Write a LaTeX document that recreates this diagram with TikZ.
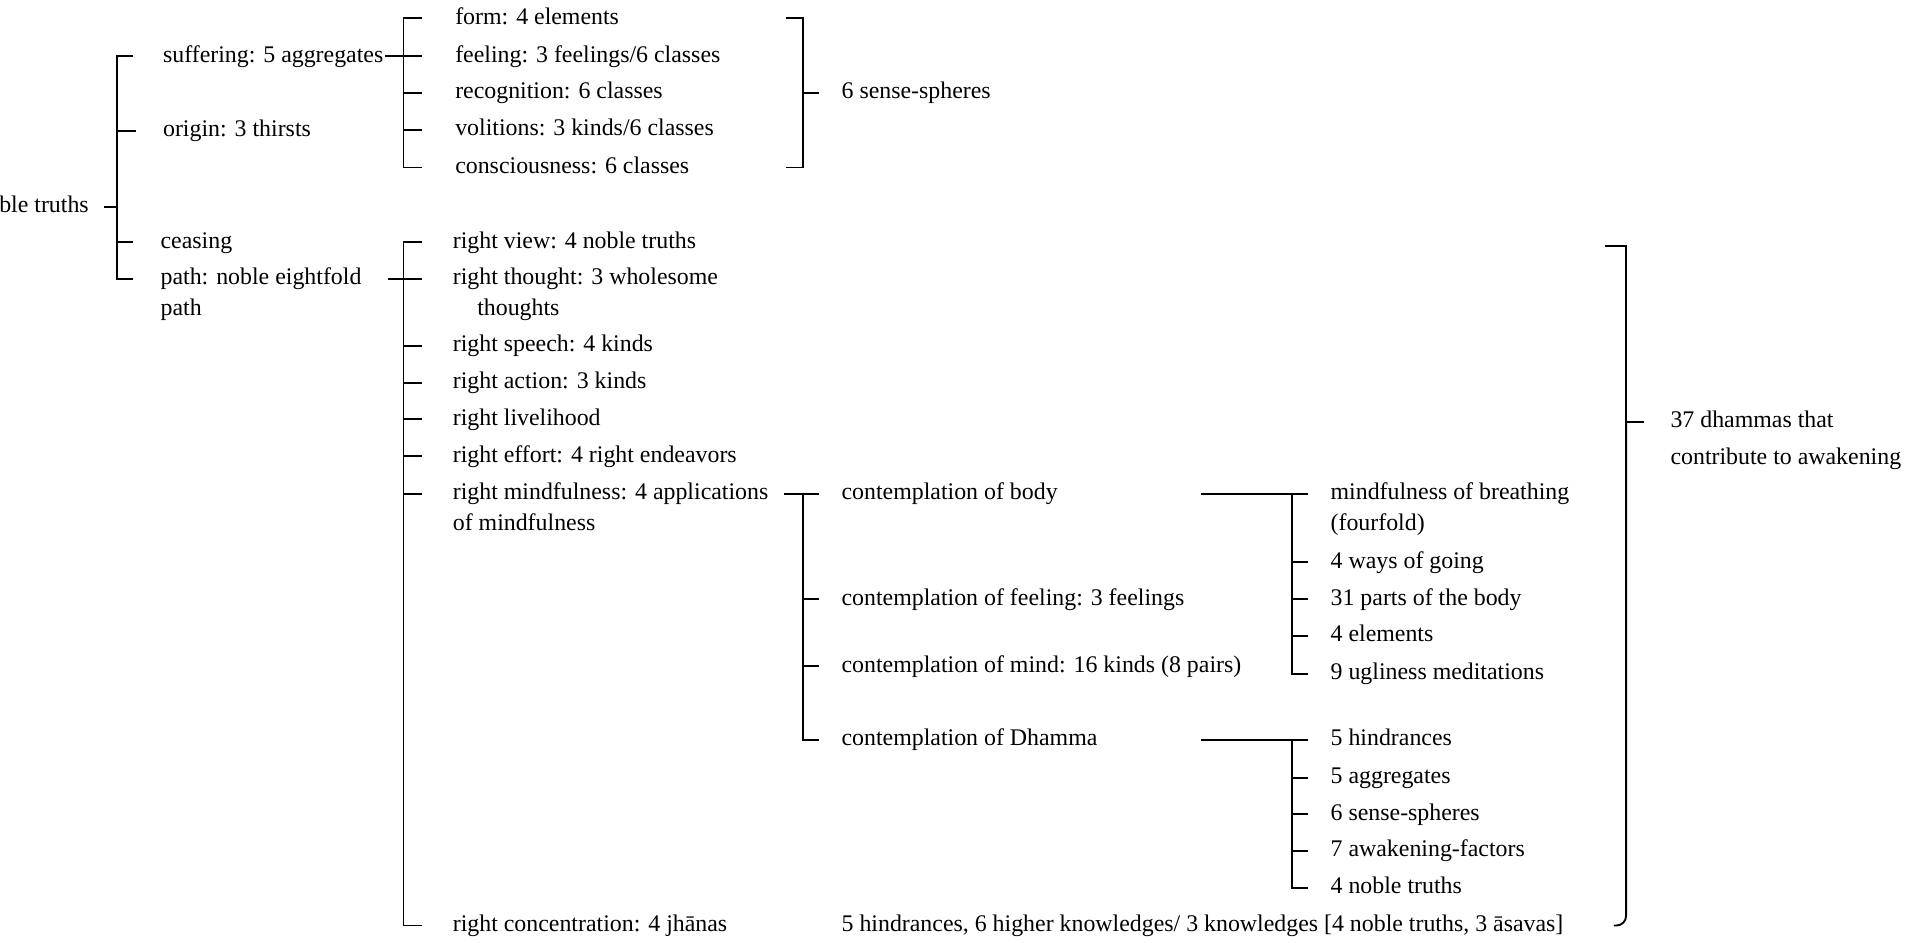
\documentclass[tikz,border=0pt]{standalone}
\usepackage{fontspec}
\setmainfont{Liberation Serif}
\usepackage{tikz}
\usetikzlibrary{calc}
\tikzset{t/.style={anchor=west,inner sep=0pt,text height=7pt,text depth=2pt,font=\fontsize{10}{12}\selectfont}}
\tikzset{b/.style={line width=0.8pt}}

\begin{document}
\begin{tikzpicture}[x=0.018cm,y=-0.018cm]
      \useasboundingbox (0,0) rectangle (1568,771);
      \node[t,anchor=east] (nt) at (73,169) {noble truths};
      \node[t] (suf) at (133,46) {suffering: 5 aggregates};
      \node[t] (orig) at (133,107) {origin: 3 thirsts};
      \node[t] (ceas) at (131,198) {ceasing};
      \node[t] (path) at (131,228) {path: noble eightfold};
      \node[t] (path2) at (131,253) {path};
      \node[t] (form) at (372,15) {form: 4 elements};
      \node[t] (feel) at (372,46) {feeling: 3 feelings/6 classes};
      \node[t] (recog) at (372,76) {recognition: 6 classes};
      \node[t] (volit) at (372,106) {volitions: 3 kinds/6 classes};
      \node[t] (cons) at (372,137) {consciousness: 6 classes};
      \node[t] (ss) at (688,76) {6 sense-spheres};
      \node[t] (view) at (370,198) {right view: 4 noble truths};
      \node[t] (thought) at (370,228) {right thought: 3 wholesome};
      \node[t] (thought2) at (390,253) {thoughts};
      \node[t] (speech) at (370,283) {right speech: 4 kinds};
      \node[t] (action) at (370,313) {right action: 3 kinds};
      \node[t] (live) at (370,343) {right livelihood};
      \node[t] (effort) at (370,373) {right effort: 4 right endeavors};
      \node[t] (mind) at (370,404) {right mindfulness: 4 applications};
      \node[t] (mind2) at (370,429) {of mindfulness};
      \node[t] (conc) at (370,757) {right concentration: 4 jhānas};
      \node[t] (body) at (688,404) {contemplation of body};
      \node[t] (cfeel) at (688,490) {contemplation of feeling: 3 feelings};
      \node[t] (cmind) at (688,545) {contemplation of mind: 16 kinds (8 pairs)};
      \node[t] (dham) at (688,605) {contemplation of Dhamma};
      \node[t] (know) at (688,757) {5 hindrances, 6 higher knowledges/ 3 knowledges [4 noble truths, 3 āsavas]};
      \node[t] (breath) at (1088,404) {mindfulness of breathing};
      \node[t] (breath2) at (1088,429) {(fourfold)};
      \node[t] (going) at (1088,460) {4 ways of going};
      \node[t] (parts) at (1088,490) {31 parts of the body};
      \node[t] (elem) at (1088,520) {4 elements};
      \node[t] (ugly) at (1088,551) {9 ugliness meditations};
      \node[t] (hind) at (1088,605) {5 hindrances};
      \node[t] (aggr) at (1088,636) {5 aggregates};
      \node[t] (sph) at (1088,666) {6 sense-spheres};
      \node[t] (awak) at (1088,696) {7 awakening-factors};
      \node[t] (truth) at (1088,726) {4 noble truths};
      \node[t] (dh) at (1366,345) {37 dhammas that};
      \node[t] (dh2) at (1366,375) {contribute to awakening};
      \coordinate (sA) at (96,0);
      \coordinate (sB) at (330,0);
      \coordinate (sC) at (657,0);
      \coordinate (sF) at (1057,0);
      \coordinate (sH) at (1330,0);
      \coordinate (c1) at (643,15);
      \coordinate (c2) at (643,137);
      \coordinate (h1) at (1313,201);
      \draw[b] ($(suf.west)+(-24,0)$) -| (sA |- nt) |- ($(path.west)+(-22,0)$);
      \draw[b] ($(sA |- nt)+(-11,0)$) -- (sA |- nt);
      \foreach \n in {orig,ceas} \draw[b] (sA |- \n) -- ($(\n.west)+(-22,0)$);
      \draw[b] ($(form.west)+(-27,0)$) -| (sB |- recog) |- ($(cons.west)+(-27,0)$);
      \draw[b] ($(sB |- suf)+(-15,0)$) -- (sB |- suf);
      \foreach \n in {feel,recog,volit} \draw[b] (sB |- \n) -- ($(\n.west)+(-27,0)$);
      \draw[b] (c1) -| (sC |- ss) |- (c2);
      \draw[b] (sC |- ss) -- ($(ss.west)+(-18,0)$);
      \draw[b] ($(view.west)+(-25,0)$) -| (sB |- mind) |- ($(conc.west)+(-25,0)$);
      \draw[b] ($(sB |- path)+(-13,0)$) -- (sB |- path);
      \foreach \n in {thought,speech,action,live,effort,mind} \draw[b] (sB |- \n) -- ($(\n.west)+(-25,0)$);
      \draw[b] ($(body.west)+(-18,0)$) -| (sC |- cfeel) |- ($(dham.west)+(-18,0)$);
      \draw[b] ($(sC |- body)+(-16,0)$) -- (sC |- body);
      \foreach \n in {cfeel,cmind} \draw[b] (sC |- \n) -- ($(\n.west)+(-18,0)$);
      \draw[b] ($(sF |- body)+(-75,0)$) -- ($(breath.west)+(-18,0)$);
      \draw[b] (sF |- breath) |- ($(ugly.west)+(-18,0)$);
      \foreach \n in {going,parts,elem} \draw[b] (sF |- \n) -- ($(\n.west)+(-18,0)$);
      \draw[b] ($(sF |- dham)+(-75,0)$) -- ($(hind.west)+(-18,0)$);
      \draw[b] (sF |- hind) |- ($(truth.west)+(-18,0)$);
      \foreach \n in {aggr,sph,awak} \draw[b] (sF |- \n) -- ($(\n.west)+(-18,0)$);
      \draw[b] (h1) -| (sH |- dh);
      \draw[b,rounded corners=4pt] (sH |- dh) |- ($(sH |- know)+(-10,0)$);
      \draw[b] (sH |- dh) -- ($(dh.west)+(-21,0)$);
\end{tikzpicture}
\end{document}
